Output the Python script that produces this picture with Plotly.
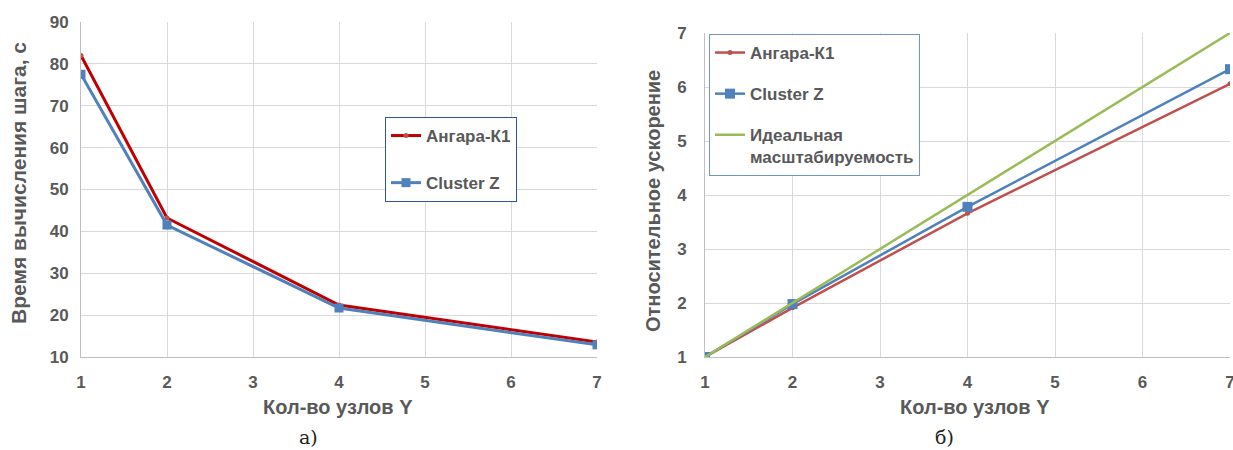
import plotly.graph_objects as go

nodes = [1, 2, 4, 7]
time_angara = [82.0, 43.2, 22.4, 13.6]
time_cluster = [77.5, 41.5, 21.7, 12.9]
speed_angara = [1.0, 1.91, 3.66, 6.06]
speed_cluster = [1.0, 1.98, 3.78, 6.33]
speed_ideal = [1, 2, 4, 7]
x_ticks = [1, 2, 3, 4, 5, 6, 7]

FONT = "Liberation Sans, Arial, sans-serif"
GRAY = "#595959"
RED_DARK = "#C00000"
RED = "#C0504D"
BLUE = "#4F81BD"
GREEN = "#9BBB59"

fig = go.Figure()

fig.add_trace(go.Scatter(x=nodes, y=time_angara, name="Ангара-К1", mode="lines+markers",
                         line=dict(color=RED_DARK, width=3), marker=dict(symbol="circle", size=5, color=RED),
                         xaxis="x", yaxis="y", legend="legend", legendgroup="a1"))
fig.add_trace(go.Scatter(x=nodes, y=time_cluster, name="Cluster Z", mode="lines+markers",
                         line=dict(color=BLUE, width=3), marker=dict(symbol="square", size=9, color=BLUE),
                         xaxis="x", yaxis="y", legend="legend", legendgroup="a2"))

fig.add_trace(go.Scatter(x=nodes, y=speed_angara, name="Ангара-К1", mode="lines+markers",
                         line=dict(color=RED, width=2.5), marker=dict(symbol="circle", size=5, color=RED),
                         xaxis="x2", yaxis="y2", legend="legend2", legendgroup="b1"))
fig.add_trace(go.Scatter(x=nodes, y=speed_cluster, name="Cluster Z", mode="lines+markers",
                         line=dict(color=BLUE, width=2.5), marker=dict(symbol="square", size=10, color=BLUE),
                         xaxis="x2", yaxis="y2", legend="legend2", legendgroup="b2"))
fig.add_trace(go.Scatter(x=nodes, y=speed_ideal, name="Идеальная<br>масштабируемость", mode="lines",
                         line=dict(color=GREEN, width=2.5),
                         xaxis="x2", yaxis="y2", legend="legend2", legendgroup="b3"))

axis_common = dict(showgrid=True, gridcolor="#D9D9D9", gridwidth=1, zeroline=False,
                   showline=True, linecolor="#BFBFBF", linewidth=1, ticks="", automargin=False,
                   ticklabeloverflow="allow",
                   tickfont=dict(family=FONT, size=17, color=GRAY, weight="bold"))

legend_font = dict(family=FONT, size=17, color=GRAY, weight="bold")

fig.update_layout(
    width=1233, height=450,
    margin=dict(l=0, r=0, t=0, b=0, autoexpand=False),
    paper_bgcolor="white", plot_bgcolor="white",
    showlegend=True,
    xaxis=dict(domain=[81/1233, 597/1233], range=[1, 7], tickvals=x_ticks, anchor="y", ticklabelstandoff=10,
               **axis_common),
    yaxis=dict(domain=[1-357/450, 1-22/450], range=[10, 90], dtick=10, anchor="x", ticklabelstandoff=8,
               **axis_common),
    xaxis2=dict(domain=[705/1233, 1230/1233], range=[1, 7], tickvals=x_ticks, anchor="y2", ticklabelstandoff=10,
                **axis_common),
    yaxis2=dict(domain=[1-357/450, 1-33/450], range=[1, 7], dtick=1, anchor="x2", ticklabelstandoff=14,
                **axis_common),
    legend=dict(x=385/1233, y=1-117/450, xanchor="left", yanchor="top",
                bgcolor="white", bordercolor="#2F5597", borderwidth=1,
                font=legend_font, tracegroupgap=22, itemwidth=30, valign="top", entrywidth=150),
    legend2=dict(x=709/1233, y=1-34/450, xanchor="left", yanchor="top",
                 bgcolor="white", bordercolor="#6F96CC", borderwidth=1,
                 font=legend_font, tracegroupgap=16, itemwidth=30, valign="top", entrywidth=200),
)

def ann(text, x, y, size, angle=0, family=FONT, color=GRAY):
    return dict(text=text, x=x/1233, y=1-y/450, xref="paper", yref="paper", xanchor="center",
                yanchor="middle", textangle=angle, showarrow=False,
                font=dict(family=family, size=size, color=color))

serif = "DejaVu Serif, Liberation Serif, serif"
annotations = [
    ann("<b>Время вычисления шага, с</b>", 18, 183, 21, -90),
    ann("<b>Кол-во узлов Y</b>", 338, 407, 20),
    ann("<b>Относительное ускорение</b>", 653, 201, 20, -90),
    ann("<b>Кол-во узлов Y</b>", 975, 407, 20),
    ann("а)", 308, 437, 19, family=serif, color="#222222"),
    ann("б)", 945, 437, 19, family=serif, color="#222222"),
]
fig.update_layout(annotations=annotations)

fig.write_html("out.html")
